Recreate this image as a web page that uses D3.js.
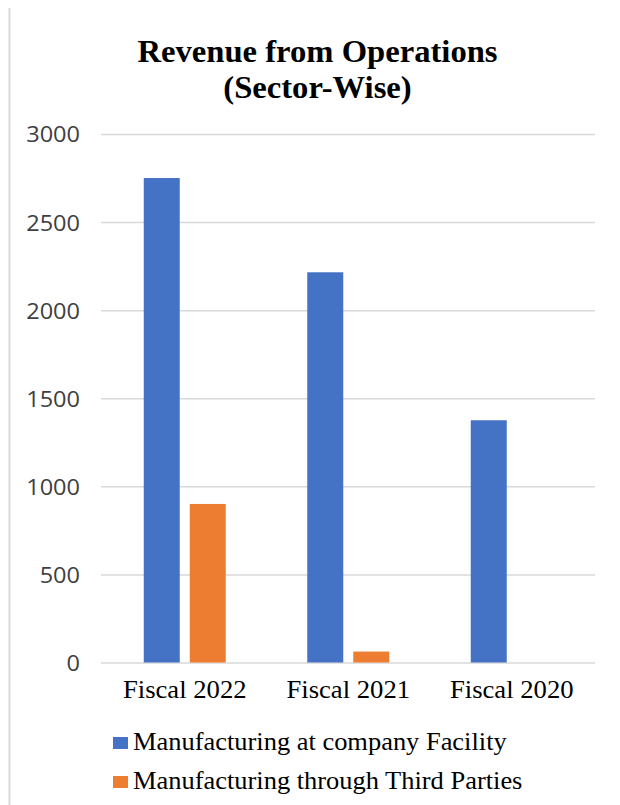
<!DOCTYPE html>
<html>
<head>
<meta charset="utf-8">
<script src="https://cdn.jsdelivr.net/npm/d3@7"></script>
<style>
  html, body { margin: 0; padding: 0; background: #fff; }
  svg { display: block; }
</style>
</head>
<body>
<svg id="chart" width="620" height="805"></svg>
<script>
// Revenue from operations, split by manufacturing sector
const categories = ["Fiscal 2022", "Fiscal 2021", "Fiscal 2020"];
const seriesNames = ["Manufacturing at company Facility", "Manufacturing through Third Parties"];
const companyFacility = [2750, 2215, 1375];
const thirdParties = [900, 62, 0];
const yTicks = [0, 500, 1000, 1500, 2000, 2500, 3000];
const titleLines = ["Revenue from Operations", "(Sector-Wise)"];

const colors = ["#4472c4", "#ed7d31"];
const serifFont = "'Liberation Serif', 'Times New Roman', serif";
const sansFont = "'Open Sans', 'Noto Sans', sans-serif";

const svg = d3.select("#chart");

// place a text element at (x, y) with a slight horizontal widening
function placeText(sel, x, y, sx) {
  sel.attr("transform", (d, i) => {
    const px = typeof x === "function" ? x(d, i) : x;
    const py = typeof y === "function" ? y(d, i) : y;
    return `translate(${px},${py}) scale(${sx},1)`;
  });
}

// frame edge on the left
svg.append("line")
  .attr("x1", 9.5).attr("x2", 9.5)
  .attr("y1", 8).attr("y2", 805)
  .attr("stroke", "#d9d9d9").attr("stroke-width", 2);

const x0 = d3.scaleBand().domain(categories).range([103, 593.5]).padding(0);
const x1 = d3.scaleBand().domain(seriesNames)
  .range([0, x0.bandwidth()]).paddingInner(0.2174).paddingOuter(0.886);
const y = d3.scaleLinear().domain([0, 3000]).range([662.5, 134]);

// gridlines and value labels
const yAxis = d3.axisLeft(y).tickValues(yTicks).tickSize(-(595 - 101)).tickFormat(d3.format("d"));
const gAxis = svg.append("g").attr("transform", "translate(101,0)").call(yAxis);
gAxis.select(".domain").remove();
gAxis.selectAll(".tick line").attr("stroke", "#d9d9d9").attr("stroke-width", 1.5);
gAxis.selectAll(".tick text")
  .attr("x", null)
  .attr("dy", "0.36em")
  .attr("fill", "#404040")
  .style("font-family", sansFont)
  .style("font-size", "22px")
  .call(placeText, -21, 0, 1.07);

// bars
const rows = categories.map((c, i) => ({ cat: c, vals: [companyFacility[i], thirdParties[i]] }));
const groups = svg.append("g").selectAll("g").data(rows).join("g")
  .attr("transform", d => `translate(${x0(d.cat)},0)`);
groups.selectAll("rect")
  .data(d => d.vals.map((v, j) => ({ v, s: seriesNames[j], j })).filter(e => e.v > 0))
  .join("rect")
  .attr("x", e => x1(e.s))
  .attr("width", x1.bandwidth())
  .attr("y", e => y(e.v))
  .attr("height", e => y(0) - y(e.v))
  .attr("fill", e => colors[e.j]);

// category labels
svg.append("g").selectAll("text").data(categories).join("text")
  .attr("text-anchor", "middle")
  .attr("fill", "#000")
  .style("font-family", serifFont)
  .style("font-size", "26px")
  .text(d => d)
  .call(placeText, d => x0(d) + x0.bandwidth() / 2, 698, 1.025);

// title
svg.append("g").selectAll("text").data(titleLines).join("text")
  .attr("text-anchor", "middle")
  .attr("fill", "#000")
  .style("font-family", serifFont)
  .style("font-weight", "bold")
  .style("font-size", "32px")
  .text(d => d)
  .call(placeText, 317.5, (d, i) => 62 + i * 36, 1.02);

// legend
const legend = svg.append("g").selectAll("g").data(seriesNames).join("g")
  .attr("transform", (d, i) => `translate(113,${750 + i * 39})`);
legend.append("rect")
  .attr("x", 0).attr("y", -13)
  .attr("width", 15).attr("height", 12)
  .attr("fill", (d, i) => colors[i]);
legend.append("text")
  .attr("fill", "#000")
  .style("font-family", serifFont)
  .style("font-size", "26px")
  .text(d => d)
  .call(placeText, 20, 0, 1.017);
</script>
</body>
</html>
